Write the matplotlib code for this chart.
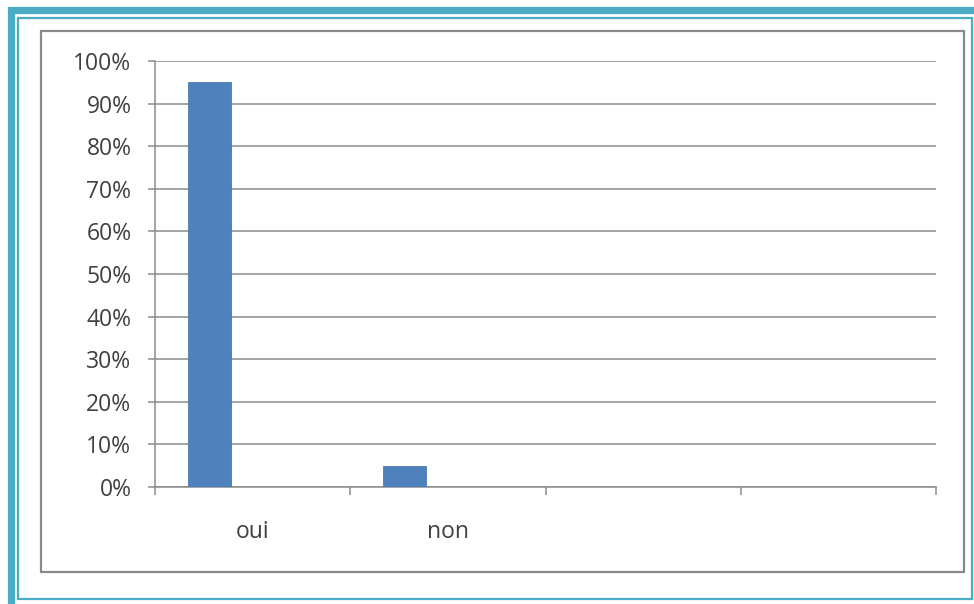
import numpy as np
import matplotlib.pyplot as plt
from matplotlib.patches import Rectangle
from matplotlib.ticker import PercentFormatter, FixedLocator

plt.rcParams['font.family'] = ['Open Sans', 'DejaVu Sans']

# data
categories = ["oui", "non", "", ""]
pct_oui_non = [95, 5]          # only the first two categories carry a value
y_ticks = list(range(0, 101, 10))

W, H = 974, 604
BAR_COLOR = "#4F81BD"
TEAL = "#4BACC6"
GRID = "#8C8C8C"
TEXT = "#404040"

# Excel style clustered layout: 3 series slots, gap width 150 %, first slot used
n_slots = 3
gap = 1.5
bar_w = 1.0 / (n_slots + gap)
offset = -0.5 + gap / 2 * bar_w + bar_w / 2


def fx(px):
    return px / W


def fy(py):
    return 1 - py / H


fig = plt.figure(figsize=(W / 100, H / 100), dpi=100)
fig.patch.set_facecolor("white")

# outer teal frame (thick band, cut off right and bottom) and thin inner line
fig.patches.append(Rectangle((fx(10.5), fy(640)), fx(1000), fy(10.5) - fy(640),
                             transform=fig.transFigure, fill=False,
                             edgecolor=TEAL, linewidth=5.2, zorder=0))
fig.patches.append(Rectangle((fx(18), fy(599)), fx(972) - fx(18), fy(18) - fy(599),
                             transform=fig.transFigure, fill=False,
                             edgecolor=TEAL, linewidth=1.6, zorder=0))
# chart area border
fig.patches.append(Rectangle((fx(41), fy(572)), fx(964) - fx(41), fy(31) - fy(572),
                             transform=fig.transFigure, fill=False,
                             edgecolor="#8A8A8A", linewidth=1.6, zorder=0))

ax = fig.add_axes([fx(155), fy(487), fx(936) - fx(155), fy(61) - fy(487)])
ax.set_facecolor("none")

x = np.arange(len(pct_oui_non))
ax.bar(x + offset, pct_oui_non, width=bar_w, color=BAR_COLOR, zorder=3,
       edgecolor="#4A7AB3", linewidth=0.6)

ax.set_xlim(-0.5, len(categories) - 0.5)
ax.set_ylim(0, 100)

ax.set_yticks(y_ticks)
ax.yaxis.set_major_formatter(PercentFormatter(xmax=100, decimals=0))
ax.yaxis.grid(True, color=GRID, linewidth=1.1, zorder=0)
ax.tick_params(axis="y", length=5, width=1.1, color=GRID, pad=12,
               labelsize=16.5, labelcolor=TEXT)

# ticks at category boundaries, labels at category centres
ax.xaxis.set_major_locator(FixedLocator(np.arange(len(categories) + 1) - 0.5))
ax.xaxis.set_major_formatter(plt.NullFormatter())
ax.xaxis.set_minor_locator(FixedLocator(np.arange(len(categories))))
ax.set_xticklabels(categories, minor=True)
ax.tick_params(axis="x", which="major", length=6, width=1.1, color=GRID)
ax.tick_params(axis="x", which="minor", length=0, pad=24,
               labelsize=16.5, labelcolor=TEXT)

for side in ("top", "right"):
    ax.spines[side].set_visible(False)
for side in ("left", "bottom"):
    ax.spines[side].set_color(GRID)
    ax.spines[side].set_linewidth(1.1)

fig.savefig("out.png", dpi=100)
